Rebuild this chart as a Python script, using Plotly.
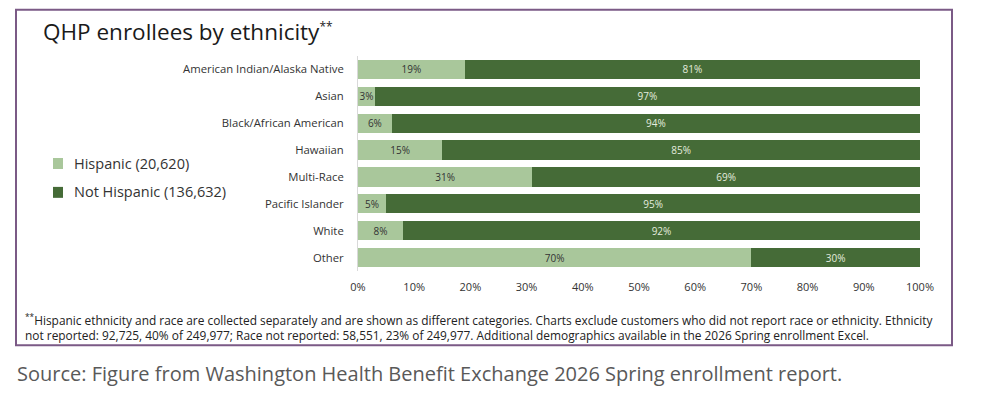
import plotly.graph_objects as go

categories = ["American Indian/Alaska Native", "Asian", "Black/African American",
              "Hawaiian", "Multi-Race", "Pacific Islander", "White", "Other"]
hispanic = [19, 3, 6, 15, 31, 5, 8, 70]
not_hispanic = [81, 97, 94, 85, 69, 95, 92, 30]
series_names = ["Hispanic (20,620)", "Not Hispanic (136,632)"]
tick_vals = [0, 10, 20, 30, 40, 50, 60, 70, 80, 90, 100]
tick_text = [f"{v}%" for v in tick_vals]

LIGHT = "#a9c79b"
DARK = "#456b37"
FONT = "Open Sans, Noto Sans, sans-serif"

W, H = 970, 388
L, R, T, B = 350, 912, 47.5, 263.5
PW, PH = R - L, B - T


def px(fx):
    return (fx - L) / PW


def py(fy):
    return (B - fy) / PH


fig = go.Figure()
fig.add_trace(go.Bar(
    y=categories, x=hispanic, orientation="h", name=series_names[0],
    marker=dict(color=LIGHT, line=dict(width=0)),
    text=[f"{v}%" for v in hispanic], textposition="inside", insidetextanchor="middle",
    textangle=0, textfont=dict(color="#333333", size=10, family=FONT), constraintext="none",
    showlegend=False,
))
fig.add_trace(go.Bar(
    y=categories, x=not_hispanic, orientation="h", name=series_names[1],
    marker=dict(color=DARK, line=dict(width=0)),
    text=[f"{v}%" for v in not_hispanic], textposition="inside", insidetextanchor="middle",
    textangle=0, textfont=dict(color="#e4ecdf", size=10, family=FONT), constraintext="none",
    showlegend=False,
))

fig.update_layout(
    width=W, height=H,
    barmode="stack", bargap=0.28,
    paper_bgcolor="white", plot_bgcolor="white",
    margin=dict(l=L, r=W - R, t=T, b=H - B, autoexpand=False),
    font=dict(family=FONT, color="#333333", size=11),
    showlegend=False,
    uniformtext=dict(minsize=10, mode="show"),
)
fig.update_xaxes(range=[0, 100], tickvals=tick_vals, ticktext=tick_text,
                 showgrid=False, zeroline=False, showline=False,
                 tickfont=dict(size=11, color="#333333"), ticks="", ticklabelstandoff=8)
fig.update_yaxes(autorange="reversed", showgrid=False, zeroline=False,
                 showline=True, linecolor="#d9d9d9", linewidth=1,
                 tickfont=dict(size=11.3, color="#333333"), ticks="", ticklabelstandoff=11)

# outer border
fig.add_shape(type="rect", xref="paper", yref="paper",
              x0=px(8), x1=px(944), y0=py(338), y1=py(1),
              line=dict(color="#7b5a86", width=2), fillcolor="rgba(0,0,0,0)", layer="below")

# legend (drawn manually)
legend_colors = [LIGHT, DARK]
legend_y = [155.5, 184.5]
for name, col, cy in zip(series_names, legend_colors, legend_y):
    fig.add_shape(type="rect", xref="paper", yref="paper",
                  x0=px(45), x1=px(55), y0=py(cy + 5.5), y1=py(cy - 5.5),
                  line=dict(width=0), fillcolor=col)
    fig.add_annotation(text=name, xref="paper", yref="paper", x=px(64), y=py(cy - 0.5),
                       xanchor="left", yanchor="middle", showarrow=False,
                       font=dict(size=14.5, color="#333333", family=FONT))

fig.add_annotation(text="QHP enrollees by ethnicity<sup><span style='font-size:12px'>**</span></sup>",
                   xref="paper", yref="paper",
                   x=px(33), y=py(22.5), xanchor="left", yanchor="middle",
                   showarrow=False, font=dict(size=22.5, color="#1a1a1a", family=FONT))

foot = ("<sup>**</sup>Hispanic ethnicity and race are collected separately and are shown as different categories. "
        "Charts exclude customers who did not report race or ethnicity. Ethnicity<br>"
        "not reported: 92,725, 40% of 249,977; Race not reported: 58,551, 23% of 249,977. "
        "Additional demographics available in the 2026 Spring enrollment Excel.")
fig.add_annotation(text=foot, xref="paper", yref="paper",
                   x=px(15), y=py(320), xanchor="left", yanchor="middle",
                   align="left", showarrow=False,
                   font=dict(size=11.9, color="#222222", family=FONT))

fig.add_annotation(text="Source: Figure from Washington Health Benefit Exchange 2026 Spring enrollment report.",
                   xref="paper", yref="paper",
                   x=px(7), y=py(366.5), xanchor="left", yanchor="middle",
                   showarrow=False, font=dict(size=20, color="#595959", family=FONT))

fig.write_html("out.html")
